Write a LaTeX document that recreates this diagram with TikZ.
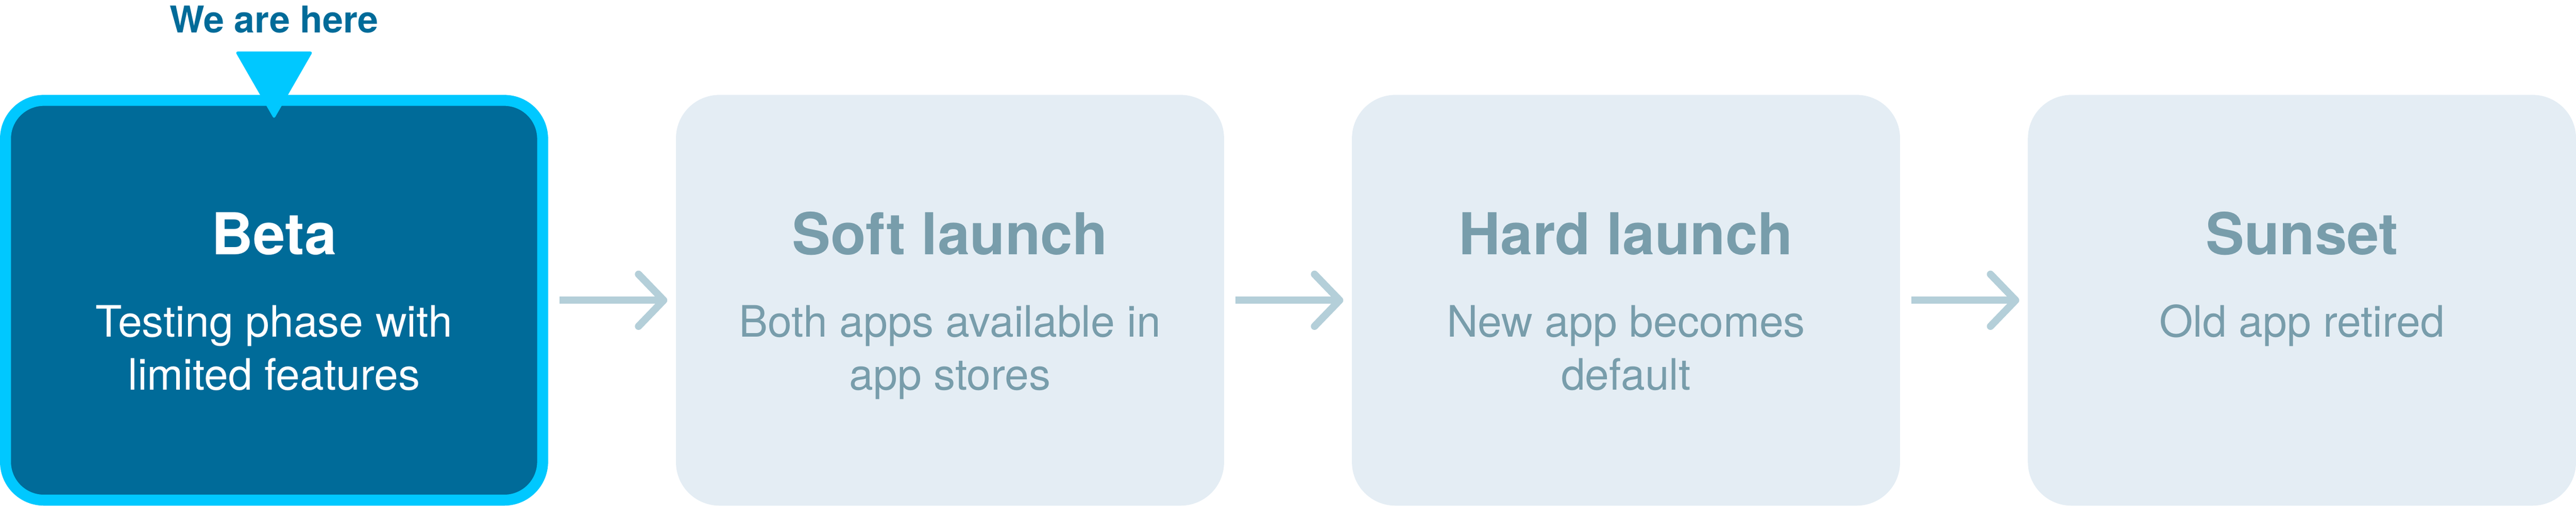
\documentclass[tikz,border=0pt]{standalone}
\usepackage{fontspec}
\setmainfont{TeX Gyre Heros}
\usetikzlibrary{arrows.meta,positioning}
\definecolor{betablue}{HTML}{006B99}
\definecolor{herecyan}{HTML}{00C8FF}
\definecolor{stagefill}{HTML}{E4EDF4}
\definecolor{stagetext}{HTML}{789DAB}
\definecolor{arrowgrey}{HTML}{B4CFD9}
\tikzset{
  stage/.style={rectangle, rounded corners=0.95cm, fill=stagefill, minimum width=12cm, minimum height=9cm, inner sep=0pt, outer sep=0pt},
  current/.style={rectangle, rounded corners=0.84cm, draw=herecyan, line width=0.24cm, fill=betablue, minimum width=11.76cm, minimum height=8.76cm, inner sep=0pt, outer sep=0.12cm},
  title/.style={font=\fontsize{36}{43}\selectfont\bfseries, anchor=base, text=stagetext, inner sep=0pt},
  blurb/.style={font=\fontsize{27}{33}\selectfont, anchor=base, align=center, text=stagetext, inner sep=0pt},
  flow/.style={draw=arrowgrey, line width=0.16cm, -{Straight Barb[length=0.55cm,width=1.14cm,round]}, shorten <=0.25cm, shorten >=0.19cm},
}

\begin{document}
\begin{tikzpicture}
        \useasboundingbox (0,0) rectangle (56.4,11.08);
        \node[current] (beta) at (6,4.5) {};
        \node[stage] (soft) at (20.8,4.5) {};
        \node[stage] (hard) at (35.6,4.5) {};
        \node[stage] (sunset) at (50.4,4.5) {};
        \draw[flow] (beta) -- (soft);
        \draw[flow] (soft) -- (hard);
        \draw[flow] (hard) -- (sunset);
        \fill[herecyan, rounded corners=0.06cm] ([xshift=-0.85cm,yshift=0.95cm]beta.north) -- ([xshift=0.85cm,yshift=0.95cm]beta.north) -- ([yshift=-0.53cm]beta.north) -- cycle;
        \node[anchor=base, inner sep=0pt, font=\fontsize{23}{28}\selectfont\bfseries, text=betablue] (here) at ([yshift=1.36cm]beta.north) {We are here};
        \node[title, text=white] (betaT) at ([yshift=1cm]beta.center) {Beta};
        \node[blurb, text=white] (betaB) at ([yshift=-1.96cm]beta.center) {Testing phase with\\limited features};
        \node[title] (softT) at ([yshift=1cm]soft.center) {Soft launch};
        \node[blurb] (softB) at ([yshift=-1.96cm]soft.center) {Both apps available in\\app stores};
        \node[title] (hardT) at ([yshift=1cm]hard.center) {Hard launch};
        \node[blurb] (hardB) at ([yshift=-1.96cm]hard.center) {New app becomes\\default};
        \node[title] (sunsetT) at ([yshift=1cm]sunset.center) {Sunset};
        \node[blurb] (sunsetB) at ([yshift=-0.8cm]sunset.center) {Old app retired};
      \end{tikzpicture}
\end{document}
